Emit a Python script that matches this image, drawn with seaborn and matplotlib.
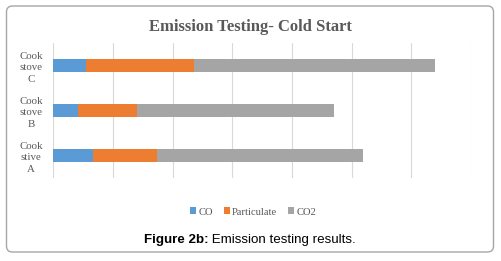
import matplotlib
matplotlib.use("Agg")
import matplotlib.pyplot as plt
import seaborn as sns
import pandas as pd
from matplotlib.patches import FancyBboxPatch, Patch

# ---- data (arbitrary units) ----
categories = ["Cook\nstove\nC", "Cook\nstove\nB", "Cook\nstive\nA"]
co = [5.5, 4.1, 6.7]
particulate = [18.1, 9.9, 10.7]
co2 = [40.3, 33.0, 34.5]
series_names = ["CO", "Particulate", "CO2"]
colors = ["#5B9BD5", "#ED7D31", "#A5A5A5"]

sns.set_theme(style="white")
plt.rcParams["font.family"] = ["Liberation Serif", "DejaVu Serif"]

df = pd.DataFrame({"cat": categories, "CO": co, "Particulate": particulate, "CO2": co2})
df["c1"] = df["CO"]
df["c2"] = df["CO"] + df["Particulate"]
df["c3"] = df["c2"] + df["CO2"]

fig = plt.figure(figsize=(5.02, 2.61), dpi=100)
ax = fig.add_axes([53.5 / 502, 1 - 178 / 261, (471 - 53.5) / 502, (178 - 43) / 261])

for col, c in zip(["c3", "c2", "c1"], colors[::-1]):
    sns.barplot(data=df, x=col, y="cat", order=categories, color=c, width=0.31,
                linewidth=0, saturation=1, ax=ax, orient="h")

ax.set_xlim(0, 70)
ax.set_xticks(range(0, 71, 10))
ax.set_xticklabels([])
ax.set_xlabel("")
ax.set_ylabel("")
ax.grid(axis="x", color="#d9d9d9", linewidth=0.8)
ax.set_axisbelow(True)
for s in ax.spines.values():
    s.set_visible(False)
ax.tick_params(axis="both", length=0)
ax.tick_params(axis="y", pad=7.5, labelsize=7.8, labelcolor="#595959")
for lbl in ax.get_yticklabels():
    lbl.set_multialignment("center")
    lbl.set_linespacing(1.35)

# title
fig.text(250 / 502, 1 - 27 / 261, "Emission Testing- Cold Start", ha="center", va="center",
         fontsize=12, fontweight="bold", color="#595959")

# legend
handles = [Patch(facecolor=c, edgecolor="none", label=n) for c, n in zip(colors, series_names)]
fig.legend(handles=handles, loc="center", bbox_to_anchor=(253 / 502, 1 - 212 / 261), ncol=3,
           frameon=False, fontsize=7.6, handlelength=0.6, handleheight=0.6, handletextpad=0.2,
           columnspacing=1.0, labelcolor="#595959")

# caption
fig.canvas.draw()
r = fig.canvas.get_renderer()
t1 = fig.text(0, 1 - 240 / 261, "Figure 2b:", ha="left", va="center", fontsize=9.6,
              fontweight="bold", family=["Liberation Sans", "DejaVu Sans"], color="black")
t2 = fig.text(0, 1 - 240 / 261, " Emission testing results.", ha="left", va="center", fontsize=9.6,
              family=["Liberation Sans", "DejaVu Sans"], color="black")
w1 = t1.get_window_extent(r).width
w2 = t2.get_window_extent(r).width
start = 250 - (w1 + w2) / 2
t1.set_x(start / 502)
t2.set_x((start + w1) / 502)

# rounded border
box = FancyBboxPatch((0.065, 0.09), 4.87, 2.46, boxstyle="round,pad=0,rounding_size=0.06",
                     transform=fig.dpi_scale_trans, facecolor="none", edgecolor="#a6a6a6",
                     linewidth=1.0)
fig.patches.append(box)

fig.savefig("out.png", dpi=100)
